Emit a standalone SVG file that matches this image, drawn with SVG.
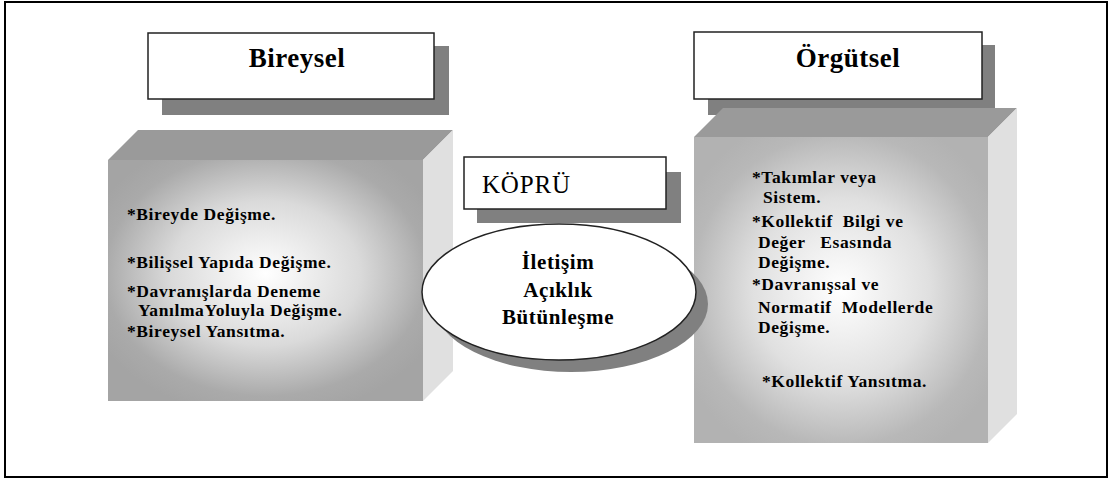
<svg xmlns="http://www.w3.org/2000/svg" width="1109" height="479" viewBox="0 0 1109 479">
  <defs>
    <radialGradient id="faceL" cx="0.5" cy="0.47" r="0.6">
      <stop offset="0" stop-color="#ffffff"/>
      <stop offset="0.5" stop-color="#dadada"/>
      <stop offset="0.85" stop-color="#aaaaaa"/>
      <stop offset="1" stop-color="#a4a4a4"/>
    </radialGradient>
    <radialGradient id="faceR" cx="0.5" cy="0.5" r="0.6">
      <stop offset="0" stop-color="#ffffff"/>
      <stop offset="0.5" stop-color="#e0e0e0"/>
      <stop offset="0.85" stop-color="#b8b8b8"/>
      <stop offset="1" stop-color="#b2b2b2"/>
    </radialGradient>
    <style>
      .frame { fill: #ffffff; stroke: #000000; stroke-width: 2; }
      .label { fill: #ffffff; stroke: #222222; stroke-width: 1.5; }
      .shadow { fill: #808080; }
      .top { fill: #9a9a9a; }
      .side { fill: #e0e0e0; }
      text { fill: #000000; font-family: 'Liberation Serif', 'Times New Roman', serif; }
      .title { font-weight: bold; font-size: 27px; letter-spacing: 0.5px; text-anchor: middle; }
      .item { font-weight: bold; font-size: 17.5px; letter-spacing: 0.6px; }
      .bridge { font-size: 25px; letter-spacing: 0.8px; }
      .oval { font-weight: bold; font-size: 21px; letter-spacing: 0.6px; text-anchor: middle; }
    </style>
  </defs>

  <!-- outer frame -->
  <rect class="frame" x="5" y="2" width="1102" height="475"/>

  <!-- individual level -->
  <g id="bireysel">
    <rect class="shadow" x="162" y="46" width="287" height="69"/>
    <rect class="label" x="148" y="33" width="286" height="66"/>
    <text class="title" x="297" y="67">Bireysel</text>
  </g>

  <g id="bireysel-cube">
    <polygon class="top" points="108,160 138,130 453,130 423,160"/>
    <polygon class="side" points="423,160 453,130 453,371 423,401"/>
    <rect x="108" y="160" width="315" height="241" fill="url(#faceL)"/>
    <text class="item" x="127" y="220">*Bireyde Değişme.</text>
    <text class="item" x="127" y="268">*Bilişsel Yapıda Değişme.</text>
    <text class="item" x="127" y="297">*Davranışlarda Deneme</text>
    <text class="item" x="138" y="316">YanılmaYoluyla Değişme.</text>
    <text class="item" x="127" y="337">*Bireysel Yansıtma.</text>
  </g>

  <!-- organizational level -->
  <g id="orgutsel">
    <rect class="shadow" x="708" y="45" width="287" height="70"/>
    <rect class="label" x="694" y="32" width="288" height="67"/>
    <text class="title" x="848" y="67">Örgütsel</text>
  </g>

  <g id="orgutsel-cube">
    <polygon class="top" points="694,137 723,108 1017,108 988,137"/>
    <polygon class="side" points="988,137 1017,108 1017,414 988,443"/>
    <rect x="694" y="137" width="294" height="306" fill="url(#faceR)"/>
    <text class="item" x="752" y="183">*Takımlar veya</text>
    <text class="item" x="763" y="203">Sistem.</text>
    <text class="item" x="752" y="227" xml:space="preserve">*Kollektif  Bilgi ve</text>
    <text class="item" x="758" y="248" xml:space="preserve">Değer   Esasında</text>
    <text class="item" x="758" y="268">Değişme.</text>
    <text class="item" x="752" y="290">*Davranışsal ve</text>
    <text class="item" x="758" y="313" xml:space="preserve">Normatif  Modellerde</text>
    <text class="item" x="758" y="333">Değişme.</text>
    <text class="item" x="762" y="387">*Kollektif Yansıtma.</text>
  </g>

  <!-- bridge -->
  <g id="kopru">
    <rect class="shadow" x="477" y="172" width="204" height="51"/>
    <rect class="label" x="464" y="157" width="202" height="52"/>
    <text class="bridge" x="482" y="193">KÖPRÜ</text>
  </g>

  <g id="iletisim">
    <ellipse class="shadow" cx="571" cy="304" rx="137" ry="68"/>
    <ellipse cx="559" cy="292" rx="137" ry="68" fill="#ffffff" stroke="#222222" stroke-width="1.5"/>
    <text class="oval" x="558" y="269">İletişim</text>
    <text class="oval" x="558" y="297">Açıklık</text>
    <text class="oval" x="558" y="324">Bütünleşme</text>
  </g>

  <g id="connectors"/>
</svg>
